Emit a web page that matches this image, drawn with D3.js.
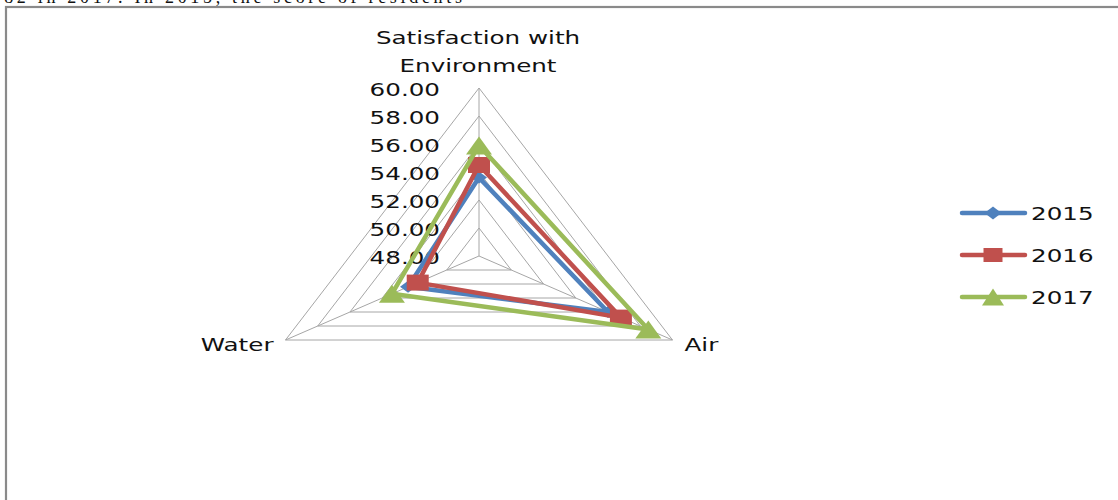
<!DOCTYPE html>
<html>
<head>
<meta charset="utf-8">
<script src="https://cdn.jsdelivr.net/npm/d3@7"></script>
<style>
  html, body { margin: 0; padding: 0; background: #fff; }
  svg { display: block; }
  text { font-family: "DejaVu Sans", sans-serif; fill: #111; }
</style>
</head>
<body>
<svg id="chart" width="1118" height="500"></svg>
<script>
// Radar chart data: three satisfaction axes, one series per year
const axes = ["Satisfaction with Environment", "Air", "Water"];
const axisLabelLines = [["Satisfaction with", "Environment"], ["Air"], ["Water"]];
const years = ["2015", "2016", "2017"];
const values2015 = [53.6, 56.0, 52.4];
const values2016 = [54.5, 56.8, 51.8];
const values2017 = [55.9, 58.5, 53.4];
const tickValues = [48, 50, 52, 54, 56, 58, 60];
const seriesColors = ["#4F81BD", "#C0504D", "#9BBB59"];
const markerShapes = ["diamond", "square", "triangle"];

const series = years.map((y, i) => ({
  year: y,
  values: [values2015, values2016, values2017][i],
  color: seriesColors[i],
  shape: markerShapes[i]
}));

const svg = d3.select("#chart");
const W = 1118, H = 500;
const stretch = 1.33;           // horizontal stretch of the whole plot
const cx = 479, cy = 256;
const Ry = 168, Rx = Ry * stretch;

// Text line running above the chart frame
svg.append("text")
  .attr("x", -4).attr("y", 3)
  .attr("textLength", 466).attr("lengthAdjust", "spacing")
  .style("font-family", "'Liberation Serif', serif")
  .style("font-size", "18px")
  .text(".82 in 2017. In 2015, the score of residents");

// Chart frame
svg.append("rect")
  .attr("x", 6).attr("y", 7)
  .attr("width", W + 20).attr("height", H + 20)
  .attr("fill", "none")
  .attr("stroke", "#8a8a8a")
  .attr("stroke-width", 2.2);

const r = d3.scaleLinear().domain([48, 60]).range([0, 1]);
const angle = i => -Math.PI / 2 + i * 2 * Math.PI / axes.length;
const px = (i, v) => cx + r(v) * Rx * Math.cos(angle(i));
const py = (i, v) => cy + r(v) * Ry * Math.sin(angle(i));

const grid = svg.append("g").attr("class", "grid");
// Concentric rings
tickValues.slice(1).forEach(t => {
  const pts = axes.map((a, i) => [px(i, t), py(i, t)]);
  grid.append("polygon")
    .attr("points", pts.map(p => p.join(",")).join(" "))
    .attr("fill", "none")
    .attr("stroke", "#a6a6a6")
    .attr("stroke-width", 1);
});
// Spokes
axes.forEach((a, i) => {
  grid.append("line")
    .attr("x1", cx).attr("y1", cy)
    .attr("x2", px(i, 60)).attr("y2", py(i, 60))
    .attr("stroke", "#a6a6a6")
    .attr("stroke-width", 1);
});

// Helper for horizontally stretched text
function stretchedText(g, x, y, str, anchor, size) {
  return g.append("text")
    .attr("transform", `translate(${x},${y}) scale(${stretch},1)`)
    .attr("text-anchor", anchor)
    .style("font-size", size + "px")
    .text(str);
}

// Tick labels along the vertical axis
const tickG = svg.append("g");
tickValues.forEach(t => {
  stretchedText(tickG, cx - 39, py(0, t) + 7.5, d3.format(".2f")(t), "end", 18.5);
});

// Axis category labels
const labelG = svg.append("g");
axisLabelLines[0].forEach((line, k) => {
  stretchedText(labelG, cx - 1, 44 + k * 28, line, "middle", 18.5);
});
stretchedText(labelG, px(1, 60) + 12, py(1, 60) + 11, axisLabelLines[1][0], "start", 18.5);
stretchedText(labelG, px(2, 60) - 12, py(2, 60) + 11, axisLabelLines[2][0], "end", 18.5);

// Marker paths (unit shapes, stretched horizontally)
function markerPath(shape, w, h) {
  const hw = w / 2, hh = h / 2;
  if (shape === "diamond") return `M0,${-hh}L${hw},0L0,${hh}L${-hw},0Z`;
  if (shape === "square") return `M${-hw},${-hh}H${hw}V${hh}H${-hw}Z`;
  return `M0,${-hh}L${hw},${hh}L${-hw},${hh}Z`;
}
const markerSize = {
  chart: { diamond: [16, 12], square: [22, 16], triangle: [26, 18] },
  legend: { diamond: [17, 13], square: [19, 14], triangle: [22, 17] }
};

// Series polygons and markers
const line = d3.line().curve(d3.curveLinearClosed);
const seriesG = svg.append("g");
series.forEach(s => {
  const pts = s.values.map((v, i) => [px(i, v), py(i, v)]);
  seriesG.append("path")
    .attr("d", line(pts))
    .attr("fill", "none")
    .attr("stroke", s.color)
    .attr("stroke-width", 4.5)
    .attr("stroke-linejoin", "round");
  const [mw, mh] = markerSize.chart[s.shape];
  pts.forEach(p => {
    seriesG.append("path")
      .attr("d", markerPath(s.shape, mw, mh))
      .attr("transform", `translate(${p[0]},${p[1]})`)
      .attr("fill", s.color);
  });
});

// Legend
const legend = svg.append("g");
const legendY = d3.scalePoint().domain(years).range([213, 297]);
series.forEach(s => {
  const y = legendY(s.year);
  legend.append("line")
    .attr("x1", 962).attr("x2", 1025)
    .attr("y1", y).attr("y2", y)
    .attr("stroke", s.color)
    .attr("stroke-width", 4.5)
    .attr("stroke-linecap", "round");
  const [mw, mh] = markerSize.legend[s.shape];
  legend.append("path")
    .attr("d", markerPath(s.shape, mw, mh))
    .attr("transform", `translate(993,${y})`)
    .attr("fill", s.color);
  stretchedText(legend, 1031, y + 7, s.year, "start", 18.5);
});
</script>
</body>
</html>
